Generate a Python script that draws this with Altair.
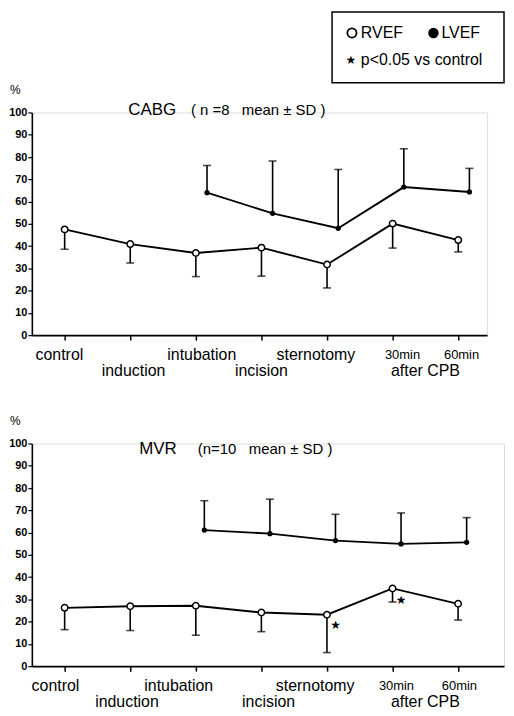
import altair as alt
import pandas as pd

# ---------------- data ----------------
stages = ["control", "induction", "intubation", "incision", "sternotomy", "30min", "60min"]
lvef_stages = ["intubation", "incision", "sternotomy", "30min", "60min"]

cabg_rvef_mean = [47.5, 40.9, 36.9, 39.3, 31.7, 50.1, 42.7]
cabg_rvef_sd = [8.9, 8.5, 10.6, 12.8, 10.5, 11.0, 5.3]
cabg_lvef_mean = [64.0, 54.7, 48.0, 66.5, 64.3]
cabg_lvef_sd = [12.2, 23.5, 26.4, 17.2, 10.6]

mvr_rvef_mean = [26.2, 26.9, 27.1, 24.1, 23.1, 34.9, 28.0]
mvr_rvef_sd = [9.8, 10.9, 13.2, 8.6, 17.0, 6.1, 7.3]
mvr_lvef_mean = [61.1, 59.5, 56.4, 54.9, 55.6]
mvr_lvef_sd = [13.2, 15.5, 11.8, 13.9, 11.1]

mvr_sig_stages = ["sternotomy", "30min"]
mvr_sig_values = [18.3, 29.8]

tick_labels = ["control", "induction", "intubation", "incision", "sternotomy", "30min", "60min", "after CPB"]
tick_rows = [0, 1, 0, 1, 0, 0, 0, 1]

y_ticks = list(range(0, 101, 10))

NB = "\u00a0"
cabg_title = "CABG"
cabg_sub = "( n =8" + NB * 3 + "mean ± SD )"
mvr_title = "MVR"
mvr_sub = "(n=10" + NB * 3 + "mean ± SD )"
legend_texts = ["RVEF", "LVEF", "★", "p<0.05 vs control"]

# ---------------- layout (pixels / category units) ----------------
H = 224
UNIT = 66
top_label_x = [-0.08, 1.05, 2.09, 3.0, 3.83, 5.15, 6.05, 5.5]
bot_label_x = [-0.14, 0.95, 1.74, 3.11, 3.82, 5.06, 6.02, 5.5]
label_size = [16, 16, 16, 16, 16, 13, 13, 16]
ROW_Y = [244, 260]
FONT = "Liberation Sans"


def idx(s):
    return stages.index(s)


def panel(rv_mean, rv_sd, lv_mean, lv_sd, lv_shift, label_x, x_end, title_main, title_sub,
          title_main_x, title_sub_x, title_y, stars=None, legend=False):
    xs = alt.Scale(domain=[-0.5, x_end], nice=False, zero=False)
    ys = alt.Scale(domain=[0, 100], nice=False, zero=False)
    width = round((x_end + 0.5) * UNIT)

    xaxis = alt.Axis(values=list(range(7)), labels=False, ticks=True, tickSize=5,
                     tickColor="black", tickWidth=1.5, domainColor="black",
                     domainWidth=1.6, grid=False, title=None)
    yaxis = alt.Axis(values=y_ticks, tickSize=4, tickColor="black", tickWidth=1.2,
                     domainColor="black", domainWidth=1.6, grid=False, title=None,
                     labelFont=FONT, labelFontSize=11, labelColor="black",
                     labelPadding=1, labelFontWeight="bold", labelOverlap=False)

    def X(f):
        return alt.X(f, type="quantitative", scale=xs, axis=xaxis)

    def Y(f):
        return alt.Y(f, type="quantitative", scale=ys, axis=yaxis)

    rv = pd.DataFrame({
        "x": [idx(s) for s in stages],
        "mean": rv_mean,
        "end": [m - s for m, s in zip(rv_mean, rv_sd)],
    })
    lv = pd.DataFrame({
        "x": [idx(s) + lv_shift for s in lvef_stages],
        "mean": lv_mean,
        "end": [m + s for m, s in zip(lv_mean, lv_sd)],
    })

    rv_line = alt.Chart(rv).mark_line(color="black", strokeWidth=1.9).encode(
        x=X("x"), y=Y("mean"))
    rv_rule = alt.Chart(rv).mark_rule(color="black", strokeWidth=1.6).encode(
        x=X("x"), y=Y("mean"), y2="end:Q")
    rv_cap = alt.Chart(rv).mark_tick(color="black", orient="horizontal", size=8,
                                     thickness=1.6).encode(x=X("x"), y=Y("end"))
    lv_rule = alt.Chart(lv).mark_rule(color="black", strokeWidth=1.6).encode(
        x=X("x"), y=Y("mean"), y2="end:Q")
    lv_cap = alt.Chart(lv).mark_tick(color="black", orient="horizontal", size=8,
                                     thickness=1.6).encode(x=X("x"), y=Y("end"))
    lv_line = alt.Chart(lv).mark_line(color="black", strokeWidth=1.9).encode(
        x=X("x"), y=Y("mean"))
    rv_pts = alt.Chart(rv).mark_point(shape="circle", filled=True, fill="white",
                                      stroke="black", strokeWidth=1.5, size=42,
                                      opacity=1).encode(x=X("x"), y=Y("mean"))
    lv_pts = alt.Chart(lv).mark_point(shape="circle", filled=True, color="black",
                                      size=28, opacity=1).encode(x=X("x"), y=Y("mean"))

    labels = pd.DataFrame({"t": tick_labels, "x": label_x, "row": tick_rows,
                           "fs": label_size})
    lab_layers = []
    for r in (0, 1):
        for fs in sorted(set(label_size)):
            sub = labels[(labels.row == r) & (labels.fs == fs)]
            if len(sub) == 0:
                continue
            lab_layers.append(
                alt.Chart(sub).mark_text(font=FONT, fontSize=fs, color="black",
                                         align="center", baseline="middle").encode(
                    x=X("x"), y=alt.value(ROW_Y[r]), text="t:N"))

    t_main = alt.Chart(pd.DataFrame({"t": [title_main]})).mark_text(
        font=FONT, fontSize=17, color="black", align="left",
        baseline="middle").encode(x=alt.value(title_main_x), y=alt.value(title_y), text="t:N")
    t_sub = alt.Chart(pd.DataFrame({"t": [title_sub]})).mark_text(
        font=FONT, fontSize=15, color="black", align="left",
        baseline="middle").encode(x=alt.value(title_sub_x), y=alt.value(title_y), text="t:N")
    pct = alt.Chart(pd.DataFrame({"t": ["%"]})).mark_text(
        font=FONT, fontSize=12, color="black", align="left",
        baseline="middle").encode(x=alt.value(-22), y=alt.value(-23), text="t:N")

    layers = [rv_line, rv_rule, rv_cap, lv_rule, lv_cap, lv_line, rv_pts, lv_pts,
              t_main, t_sub, pct] + lab_layers

    if stars is not None:
        st = pd.DataFrame({"x": [idx(s) + 0.13 for s in stars[0]], "y": stars[1],
                           "t": ["★"] * len(stars[0])})
        layers.append(alt.Chart(st).mark_text(font="DejaVu Sans", fontSize=12,
                                              color="black").encode(
            x=X("x"), y=Y("y"), text="t:N"))

    if legend:
        one = pd.DataFrame({"a": [0]})
        box = alt.Chart(one).mark_rect(fill="white", stroke="black", strokeWidth=1.5).encode(
            x=alt.value(302), x2=alt.value(475), y=alt.value(-101), y2=alt.value(-30))
        lt = []
        specs = [(legend_texts[0], 331, -80, 16, FONT, "left"),
                 (legend_texts[1], 412, -80, 16, FONT, "left"),
                 (legend_texts[2], 321, -53, 12, "DejaVu Sans", "center"),
                 (legend_texts[3], 331, -53, 16, FONT, "left")]
        for t, xx, yy, fs, fnt, al in specs:
            lt.append(alt.Chart(pd.DataFrame({"t": [t]})).mark_text(
                font=fnt, fontSize=fs, color="black", align=al,
                baseline="middle").encode(x=alt.value(xx), y=alt.value(yy), text="t:N"))
        ring = alt.Chart(one).mark_point(shape="circle", filled=False, color="black",
                                         strokeWidth=1.8, size=85, opacity=1).encode(
            x=alt.value(322), y=alt.value(-80))
        dot = alt.Chart(one).mark_point(shape="circle", filled=True, color="black",
                                        size=110, opacity=1).encode(
            x=alt.value(404), y=alt.value(-80))
        layers = [box] + layers + lt + [ring, dot]

    return alt.layer(*layers).properties(width=width, height=H)


top = panel(cabg_rvef_mean, cabg_rvef_sd, cabg_lvef_mean, cabg_lvef_sd, 0.17,
            top_label_x, 6.44, cabg_title, cabg_sub, 97, 160, -2, legend=True)
bottom = panel(mvr_rvef_mean, mvr_rvef_sd, mvr_lvef_mean, mvr_lvef_sd, 0.13,
               bot_label_x, 6.7, mvr_title, mvr_sub, 108, 167, 6,
               stars=(mvr_sig_stages, mvr_sig_values))

chart = alt.vconcat(top, bottom, spacing=34).properties(padding=0).configure_view(
    stroke=None).configure(background="white")

chart.save("out.html", embed_options={"renderer": "svg", "actions": False})
